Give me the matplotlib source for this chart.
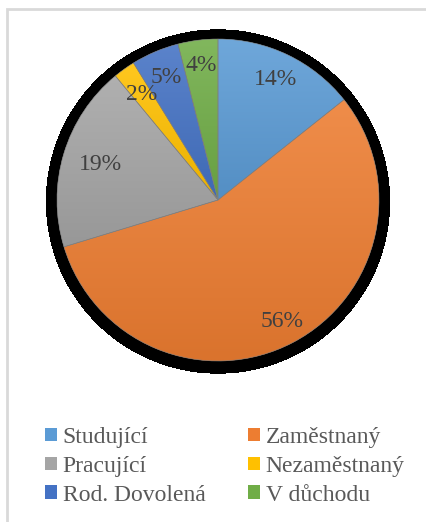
import numpy as np
import matplotlib
matplotlib.use("Agg")
import matplotlib.pyplot as plt
from matplotlib.colors import to_rgb
from matplotlib.patches import Circle, Rectangle, Wedge

categories = ['Studující', 'Zaměstnaný', 'Pracující', 'Nezaměstnaný', 'Rod. Dovolená', 'V důchodu']
shares = [14.3, 56.0, 18.7, 2.2, 4.8, 4.0]
colors = ['#5B9BD5', '#ED7D31', '#A5A5A5', '#FFC000', '#4472C4', '#70AD47']
label_dist = [0.83, 0.85, 0.76, 0.81, 0.83, 0.84]

plt.rcParams['font.family'] = ['Liberation Serif', 'DejaVu Serif']

W, H = 426, 522
fig = plt.figure(figsize=(W / 100, H / 100), dpi=100)
ax = fig.add_axes([0, 0, 1, 1])

# chart frame
ax.add_patch(Rectangle((6.5, -20), W, H - 9 + 20, fill=False, ec='#d9d9d9', lw=2))

cx, cy, r = 218, H - 200, 161

# shadow
ax.add_patch(Circle((cx, cy - 1.5), r + 10, color='black', antialiased=False, zorder=1))

wedges, texts, autotexts = ax.pie(
    shares, colors=colors, startangle=90, counterclock=False,
    center=(cx, cy), radius=r, autopct='%1.0f%%', pctdistance=0.83,
    wedgeprops=dict(linewidth=0),
    textprops=dict(fontsize=17, color='#404040'))

ax.set_xlim(0, W)
ax.set_ylim(0, H)
ax.set_aspect('equal')
ax.axis('off')

# vertical gradient inside each slice
for w, c in zip(wedges, colors):
    w.set_zorder(2)
    base = np.array(to_rgb(c))
    top = base + (1 - base) * 0.12
    bot = base * 0.92
    t = np.linspace(0, 1, 64)[:, None]
    grad = (top * (1 - t) + bot * t)[:, None, :]
    grad = np.repeat(grad, 2, axis=1)
    bb = w.get_path().get_extents(w.get_patch_transform())
    im = ax.imshow(grad, extent=[bb.x0, bb.x1, bb.y0, bb.y1], origin='upper',
                   aspect='auto', zorder=2.5, interpolation='bilinear')
    im.set_clip_path(w)
    ax.add_patch(Wedge(w.center, w.r, w.theta1, w.theta2,
                       fill=False, ec='#7f7f7f', lw=0.4, zorder=3))

for t, d in zip(autotexts, label_dist):
    x, y = t.get_position()
    ang = np.arctan2(y - cy, x - cx)
    t.set_position((cx + d * r * np.cos(ang), cy + d * r * np.sin(ang)))
    t.set_zorder(5)

order = [0, 2, 4, 1, 3, 5]
leg = ax.legend([wedges[i] for i in order], [categories[i] for i in order],
                ncol=2, loc='upper left', bbox_to_anchor=(45 / W, 1 - 427 / H),
                frameon=False, fontsize=17, labelcolor='#595959',
                handlelength=0.5, handleheight=0.5, handletextpad=0.25,
                labelspacing=0.33, columnspacing=1.8, borderpad=0, borderaxespad=0)

fig.savefig('out.png', dpi=100)
